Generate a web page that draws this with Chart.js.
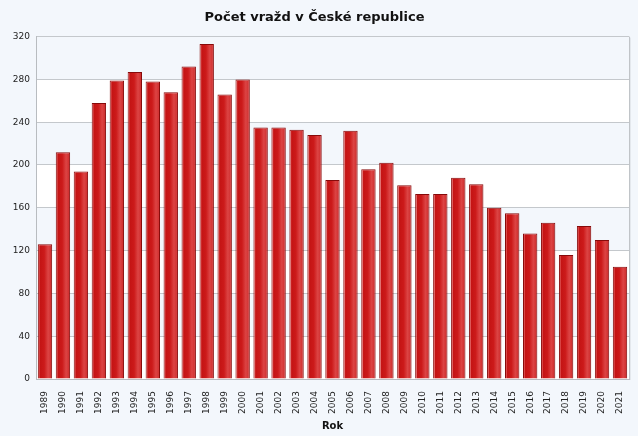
<!DOCTYPE html>
<html>
<head>
<meta charset="utf-8">
<script src="https://cdn.jsdelivr.net/npm/chart.js@4/dist/chart.umd.min.js"></script>
<style>
  html, body { margin: 0; padding: 0; background: #f3f7fc; }
  #wrap { position: relative; width: 638px; height: 436px; }
</style>
</head>
<body>
<div id="wrap"><canvas id="chart"></canvas></div>
<script>
// Data
const years = ["1989", "1990", "1991", "1992", "1993", "1994", "1995", "1996", "1997", "1998",
               "1999", "2000", "2001", "2002", "2003", "2004", "2005", "2006", "2007", "2008",
               "2009", "2010", "2011", "2012", "2013", "2014", "2015", "2016", "2017", "2018",
               "2019", "2020", "2021"];
const murders = [126, 212, 194, 258, 279, 287, 278, 268, 292, 313,
                 266, 280, 235, 235, 233, 228, 186, 232, 196, 202,
                 181, 173, 173, 188, 182, 160, 155, 136, 146, 116,
                 143, 130, 105];
const yTicks = [0, 40, 80, 120, 160, 200, 240, 280, 320];

const chartTitle = "Počet vražd v České republice";
const xTitle = "Rok";

// Background bands + plot frame
const plotFrame = {
  id: "plotFrame",
  beforeDraw(chart) {
    const c = chart.ctx;
    const area = chart.chartArea;
    const y = chart.scales.y;
    c.save();
    c.fillStyle = "#f3f7fc";
    c.fillRect(0, 0, chart.width, chart.height);
    for (let i = 0; i < yTicks.length - 1; i++) {
      const top = y.getPixelForValue(yTicks[i + 1]);
      const bottom = y.getPixelForValue(yTicks[i]);
      c.fillStyle = (i % 2 === 0) ? "#ffffff" : "#f3f7fc";
      c.fillRect(area.left, top, area.right - area.left, bottom - top);
    }
    c.restore();
  },
  afterDraw(chart) {
    const c = chart.ctx;
    const area = chart.chartArea;
    c.save();
    c.strokeStyle = "#c0c4c8";
    c.lineWidth = 1;
    c.beginPath();
    c.moveTo(Math.round(area.right) + 0.5, area.top);
    c.lineTo(Math.round(area.right) + 0.5, area.bottom);
    c.stroke();
    c.strokeStyle = "rgba(0,0,0,0.06)";
    c.beginPath();
    c.moveTo(Math.round(area.right) + 1.5, area.top + 1);
    c.lineTo(Math.round(area.right) + 1.5, area.bottom + 1);
    c.stroke();
    c.restore();
  }
};

function barFill(context) {
  const chart = context.chart;
  if (!chart.chartArea) return "#c8161a";
  const xs = chart.scales.x;
  const cx = xs.getPixelForValue(context.dataIndex);
  const half = (xs.width / years.length) * 0.8 / 2;
  const g = chart.ctx.createLinearGradient(cx - half, 0, cx + half, 0);
  g.addColorStop(0.0, "#9c0c0c");
  g.addColorStop(0.07, "#e86a6a");
  g.addColorStop(0.16, "#c41414");
  g.addColorStop(0.45, "#cc1a1a");
  g.addColorStop(0.72, "#dc4444");
  g.addColorStop(0.9, "#d23232");
  g.addColorStop(1.0, "#9a0e0e");
  return g;
}

const tickFont = { family: "DejaVu Sans", size: 9 };

new Chart(document.getElementById("chart"), {
  type: "bar",
  data: {
    labels: years,
    datasets: [{
      label: "Počet vražd",
      data: murders,
      backgroundColor: barFill,
      borderColor: "#870a0a",
      borderWidth: 1,
      borderSkipped: "bottom",
      barPercentage: 0.8,
      categoryPercentage: 1.0
    }]
  },
  options: {
    responsive: true,
    maintainAspectRatio: false,
    animation: false,
    layout: { padding: { left: 0, right: 9, top: 0, bottom: 4 } },
    plugins: {
      legend: { display: false },
      tooltip: { enabled: false },
      title: {
        display: true,
        text: chartTitle,
        color: "#111",
        font: { family: "DejaVu Sans", size: 13, weight: "bold" },
        padding: { top: 10, bottom: 11 }
      }
    },
    scales: {
      x: {
        grid: { display: false },
        border: { color: "#b8bcc0" },
        ticks: {
          color: "#222",
          font: tickFont,
          minRotation: 90,
          maxRotation: 90,
          autoSkip: false,
          padding: 4
        },
        title: {
          display: true,
          text: xTitle,
          color: "#111",
          font: { family: "DejaVu Sans", size: 10, weight: "bold" },
          padding: { top: 2, bottom: 0 }
        },
        afterFit(scale) { scale.height = 53; }
      },
      y: {
        min: 0,
        max: 320,
        afterBuildTicks(scale) { scale.ticks = yTicks.map(v => ({ value: v })); },
        grid: { color: "#c4c8cc", drawTicks: false },
        border: { color: "#b8bcc0" },
        ticks: {
          color: "#222",
          font: tickFont,
          padding: 6
        },
        afterFit(scale) { scale.width = 36; }
      }
    }
  },
  plugins: [plotFrame]
});
</script>
</body>
</html>
